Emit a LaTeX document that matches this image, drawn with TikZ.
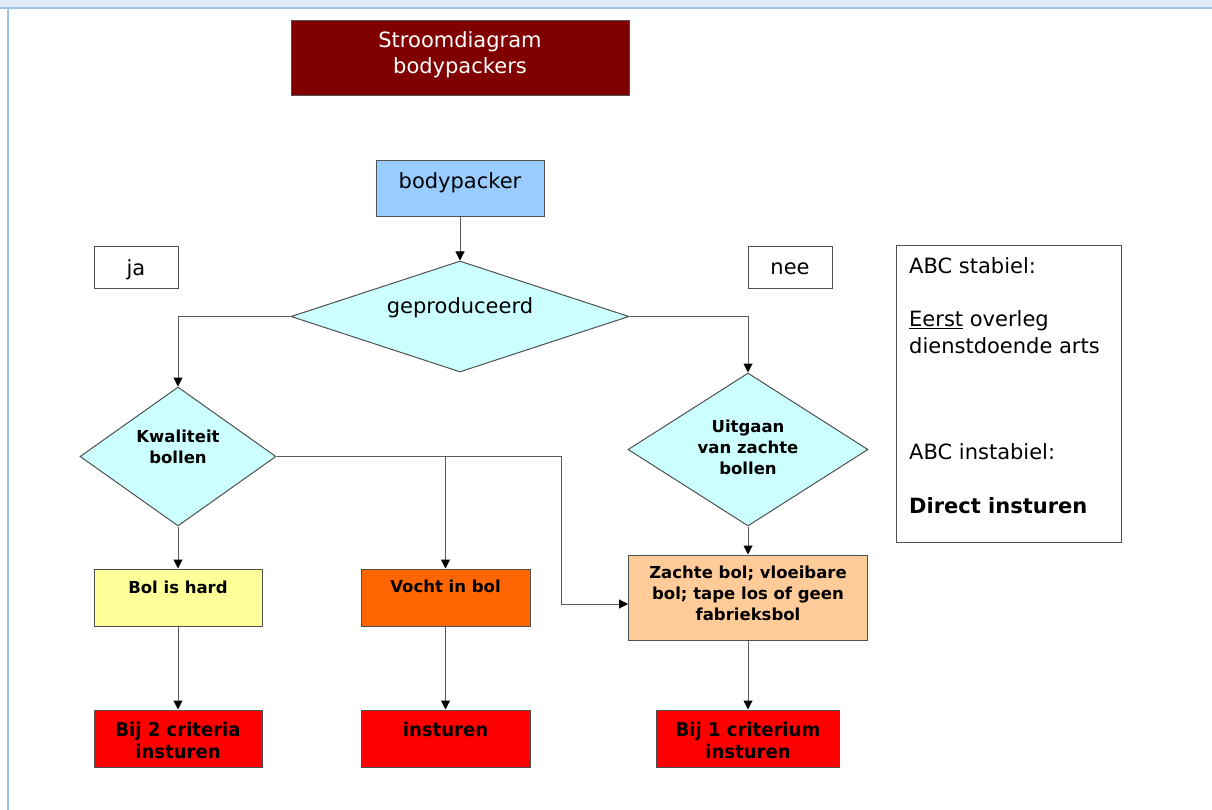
\documentclass[tikz,border=0pt]{standalone}
\usepackage{fontspec}
\setmainfont{DejaVu Sans}
\newfontfamily\condfont[FakeStretch=0.95]{DejaVu Sans}
\usetikzlibrary{arrows.meta,shapes.geometric}
\definecolor{bandfill}{HTML}{DEEAF6}
\definecolor{bandline}{HTML}{9DC3E6}
\definecolor{titlered}{HTML}{800000}
\definecolor{bpblue}{HTML}{99CCFF}
\definecolor{diacyan}{HTML}{CCFFFF}
\definecolor{hardyellow}{HTML}{FFFF99}
\definecolor{vochtorange}{HTML}{FF6600}
\definecolor{zachtpeach}{HTML}{FFCC99}
\definecolor{alarmred}{HTML}{FF0000}
\definecolor{edgegray}{HTML}{505050}
\definecolor{conngray}{HTML}{5A5A5A}
\tikzset{
  box/.style={draw=edgegray, line width=1pt, rectangle, inner sep=0pt},
  dia/.style={draw=edgegray, line width=1pt, diamond, inner sep=0pt, fill=diacyan},
  conn/.style={draw=conngray, line width=1pt, -{Triangle[length=9pt,width=9pt,color=black]}},
  txt/.style={inner sep=0pt, align=center, font=\fontsize{21}{26}\selectfont},
  btxt/.style={inner sep=0pt, align=center, font=\fontsize{16.5}{21}\selectfont\bfseries},
  rtxt/.style={inner sep=0pt, align=center, font=\fontsize{19}{22}\selectfont\condfont\bfseries},
}
\begin{document}
\begin{tikzpicture}[x=1pt,y=-1pt]
\useasboundingbox (0,0) rectangle (1212,810);
\fill[bandfill] (0,0) rectangle (1212,7.5);
\draw[bandline, line width=2pt] (0,8) -- (1212,8);
\draw[bandline, line width=2pt] (8,8) -- (8,810);

% boxes
\node[box, fill=titlered, minimum width=338, minimum height=75] (title) at (460,58.5) {};
\node[box, fill=bpblue, minimum width=168, minimum height=56] (bp) at (460,189) {};
\node[dia, minimum width=338, minimum height=111] (geo) at (460,316.5) {};
\node[box, minimum width=84, minimum height=41] (ja) at (136,267.5) {};
\node[box, minimum width=84, minimum height=41] (nee) at (790,267.5) {};
\node[dia, minimum width=196, minimum height=139] (kw) at (178,456.5) {};
\node[dia, minimum width=240, minimum height=153] (uit) at (748,449.5) {};
\node[box, fill=hardyellow, minimum width=168, minimum height=57] (bol) at (178,597.5) {};
\node[box, fill=vochtorange, minimum width=169, minimum height=57] (vocht) at (445.5,597.5) {};
\node[box, fill=zachtpeach, minimum width=239, minimum height=85] (zacht) at (748,597.5) {};
\node[box, fill=alarmred, minimum width=168, minimum height=57] (bij2) at (178,738.5) {};
\node[box, fill=alarmred, minimum width=169, minimum height=57] (inst) at (445.5,738.5) {};
\node[box, fill=alarmred, minimum width=183, minimum height=57] (bij1) at (748,738.5) {};
\node[box, minimum width=225, minimum height=296] (abc) at (1008.5,394) {};

% texts
\node[txt, text=white, anchor=base] (titlet) at (460,74) {Stroomdiagram\\bodypackers};
\node[txt, anchor=base] (bpt) at (460,189) {bodypacker};
\node[txt, anchor=base] (geot) at (460,313) {geproduceerd};
\node[txt, anchor=base] (jat) at (136,276) {ja};
\node[txt, anchor=base] (neet) at (790,275) {nee};
\node[btxt, anchor=base] (kwt) at (178,463) {Kwaliteit\\bollen};
\node[btxt, anchor=base] (uitt) at (748,474) {Uitgaan\\van zachte\\bollen};
\node[btxt, anchor=base] (bolt) at (178,593) {Bol is hard};
\node[btxt, anchor=base] (vochtt) at (445.5,592.5) {Vocht in bol};
\node[btxt, anchor=base] (zachtt) at (748,620) {Zachte bol; vloeibare\\bol; tape los of geen\\fabrieksbol};
\node[rtxt, anchor=base] (bij2t) at (178,758) {Bij 2 criteria\\insturen};
\node[rtxt, anchor=base] (instt) at (445.5,736) {insturen};
\node[rtxt, anchor=base] (bij1t) at (748,758) {Bij 1 criterium\\insturen};
\node[txt, align=left, anchor=base west, font=\fontsize{21}{26.6}\selectfont] (abct) at (909,513)
  {ABC stabiel:\\[26.6pt]\underline{Eerst} overleg\\dienstdoende arts\\[80pt]ABC instabiel:\\[26.5pt]\textbf{Direct insturen}};

% connectors
\draw[conn] (bp.south) -- (geo.north);
\draw[conn] (geo.west) -| (kw.north);
\draw[conn] (geo.east) -| (uit.north);
\draw[conn] (kw.south) -- (bol.north);
\draw[conn] (uit.south) -- (zacht.north);
\coordinate (bend) at (561,604);
\draw[conn] (kw.east) -| (bend) -- (zacht.west |- bend);
\draw[conn] (vocht.north |- kw.east) -- (vocht.north);
\draw[conn] (bol.south) -- (bij2.north);
\draw[conn] (vocht.south) -- (inst.north);
\draw[conn] (zacht.south) -- (bij1.north);
\end{tikzpicture}
\end{document}
